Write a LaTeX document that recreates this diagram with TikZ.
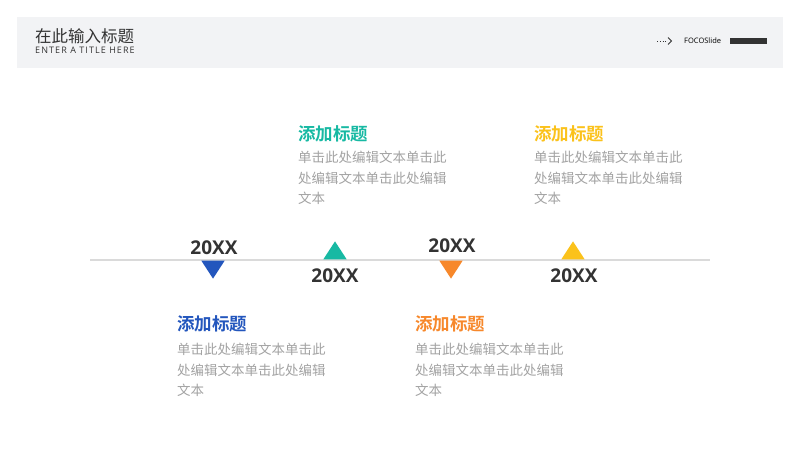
\documentclass[tikz,border=0pt]{standalone}
\usepackage{fontspec}
\newfontfamily\cjk{Noto Sans CJK SC}[BoldFont={Noto Sans CJK SC Bold}]
\newfontfamily\latin{Open Sans}
\newfontfamily\latinsp{Open Sans}[LetterSpace=12]
\definecolor{hdrbg}{HTML}{F2F3F5}
\definecolor{axis}{HTML}{DADADA}
\definecolor{cblue}{HTML}{2356BD}
\definecolor{cteal}{HTML}{17B9A3}
\definecolor{corange}{HTML}{F7882B}
\definecolor{cyellow}{HTML}{FBC21B}
\definecolor{bodygray}{HTML}{A3A3A3}
\definecolor{dark}{HTML}{333333}
\tikzset{
  tri/.style={draw=none, isosceles triangle, isosceles triangle apex angle=66, minimum height=18pt, inner sep=0pt, shape border uses incircle=false},
  year/.style={font=\latin\bfseries\fontsize{19}{19}\selectfont, text=dark, inner sep=0pt, anchor=base},
  ttl/.style={font=\cjk\bfseries\fontsize{17.5}{19}\selectfont, inner sep=0pt, anchor=base west},
  body/.style={font=\cjk\fontsize{13.5}{20.5}\selectfont, text=bodygray, inner sep=0pt, anchor=north west, align=left},
}
\usetikzlibrary{shapes.geometric}
\begin{document}
\begin{tikzpicture}[x=1pt,y=-1pt]
\useasboundingbox (0,0) rectangle (800,450);
\fill[white] (0,0) rectangle (800,450);
% header
\fill[hdrbg] (17,17) rectangle (783,68);
\node[inner sep=0pt, anchor=base west, font=\cjk\fontsize{16.5}{18}\selectfont, text=dark] (htitle) at (35,42.5) {在此输入标题};
\node[inner sep=0pt, anchor=base west, font=\latinsp\fontsize{9}{10}\selectfont, text=dark] (hsub) at (35,53) {ENTER A TITLE HERE};
\coordinate (ar1) at (657,41);
\coordinate (ar2) at (667,41);
\draw[dark, line width=0.8pt, dotted] (ar1) -- (ar2);
\draw[dark, line width=0.8pt] (668,37.5) -- (671.5,41) -- (668,44.5);
\node[inner sep=0pt, anchor=west, font=\latin\fontsize{7.5}{8}\selectfont, text=black] (brand) at (684,41) {FOCOSlide};
\fill[dark] (730,38) rectangle (767,44);
% axis
\coordinate (axL) at (90,260);
\coordinate (axR) at (710,260);
\draw[axis, line width=1.5pt] (axL) -- (axR);
% triangles
\node[tri, fill=cblue, shape border rotate=-90, anchor=apex] (t1) at (213,279) {};
\node[tri, fill=cteal, shape border rotate=90, anchor=apex] (t2) at (335,241) {};
\node[tri, fill=corange, shape border rotate=-90, anchor=apex] (t3) at (451,279) {};
\node[tri, fill=cyellow, shape border rotate=90, anchor=apex] (t4) at (573,241) {};
% years
\node[year] (y1) at (214,254.5) {20XX};
\node[year] (y2) at (335,282.5) {20XX};
\node[year] (y3) at (452,252.5) {20XX};
\node[year] (y4) at (574,282.5) {20XX};
% text blocks
\node[ttl, text=cteal] (h2) at (298,140.5) {添加标题};
\node[body] (b2) at (298,151) {单击此处编辑文本单击此\\处编辑文本单击此处编辑\\文本};
\node[ttl, text=cyellow] (h4) at (534,140.5) {添加标题};
\node[body] (b4) at (534,151) {单击此处编辑文本单击此\\处编辑文本单击此处编辑\\文本};
\node[ttl, text=cblue] (h1) at (177,330.5) {添加标题};
\node[body] (b1) at (177,343) {单击此处编辑文本单击此\\处编辑文本单击此处编辑\\文本};
\node[ttl, text=corange] (h3) at (415,330.5) {添加标题};
\node[body] (b3) at (415,343) {单击此处编辑文本单击此\\处编辑文本单击此处编辑\\文本};
\end{tikzpicture}
\end{document}
